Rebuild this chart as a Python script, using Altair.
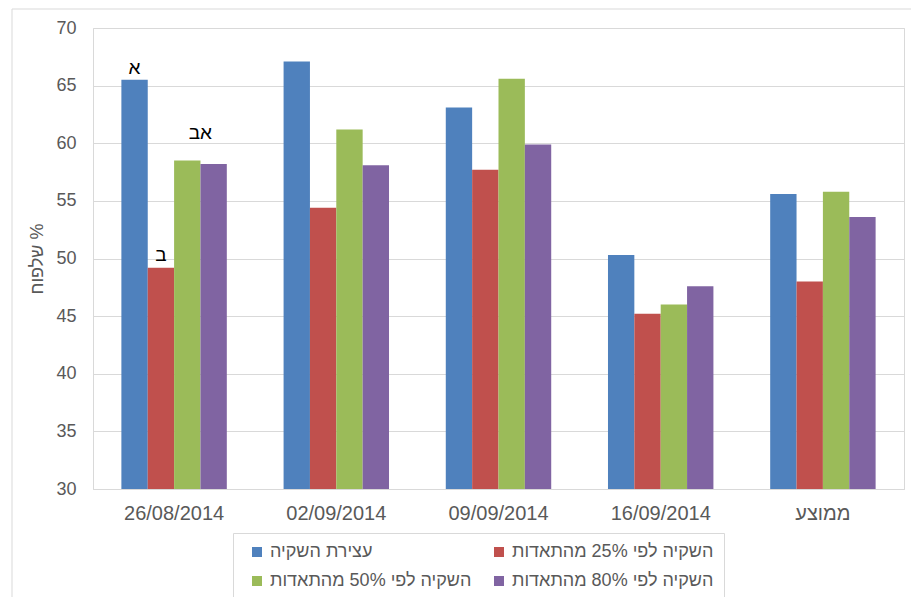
import altair as alt
import pandas as pd

# Sampling dates (last one is the mean over all dates)
categories = ["26/08/2014", "02/09/2014", "09/09/2014", "16/09/2014", "ממוצע"]

# Irrigation treatments
series = [
    "עצירת השקיה",
    "השקיה לפי 25% מהתאדות",
    "השקיה לפי 50% מהתאדות",
    "השקיה לפי 80% מהתאדות",
]

# % blistering per treatment, one value per date
stop_irrigation = [65.5, 67.1, 63.1, 50.3, 55.6]
evap_25 = [49.2, 54.4, 57.7, 45.2, 48.0]
evap_50 = [58.5, 61.2, 65.6, 46.0, 55.8]
evap_80 = [58.2, 58.1, 59.9, 47.6, 53.6]

colors = ["#4F81BD", "#C0504D", "#9BBB59", "#8064A2"]

y_ticks = [30, 35, 40, 45, 50, 55, 60, 65, 70]

rows = []
for name, vals in zip(series, [stop_irrigation, evap_25, evap_50, evap_80]):
    for cat, v in zip(categories, vals):
        rows.append({"date": cat, "treatment": name, "value": v})
df = pd.DataFrame(rows)

FONT = "Liberation Sans"
GRAY = "#595959"
LINE = "#D9D9D9"

x_enc = alt.X(
    "date:N",
    sort=categories,
    title=None,
    scale=alt.Scale(paddingInner=0.35, paddingOuter=0.175),
    axis=alt.Axis(
        labelAngle=0,
        ticks=False,
        domainColor=LINE,
        labelFont=FONT,
        labelFontSize=20,
        labelColor=GRAY,
        labelPadding=14,
    ),
)
xoff_enc = alt.XOffset("treatment:N", sort=series)
y_scale = alt.Scale(domain=[30, 70], zero=False, nice=False)

bars = (
    alt.Chart(df)
    .mark_bar()
    .encode(
        x=x_enc,
        xOffset=xoff_enc,
        y=alt.Y(
            "value:Q",
            scale=y_scale,
            title="שלפוח %",
            axis=alt.Axis(
                values=y_ticks,
                ticks=False,
                domain=False,
                gridColor=LINE,
                labelFont=FONT,
                labelFontSize=18,
                labelColor=GRAY,
                labelPadding=17,
                titleFont=FONT,
                titleFontSize=18,
                titleFontWeight="normal",
                titleColor=GRAY,
                titlePadding=9,
            ),
        ),
        y2=alt.datum(30),
        color=alt.Color(
            "treatment:N",
            sort=series,
            scale=alt.Scale(domain=series, range=colors),
            legend=alt.Legend(
                title=None,
                orient="none",
                legendX=140,
                legendY=505,
                columns=2,
                direction="horizontal",
                symbolType="square",
                symbolSize=100,
                symbolStrokeWidth=0,
                symbolOffset=5,
                labelFont=FONT,
                labelFontSize=18,
                labelColor=GRAY,
                labelOffset=4,
                labelLimit=400,
                rowPadding=11,
                columnPadding=13,
                padding=10,
                strokeColor=LINE,
                fillColor="white",
            ),
        ),
    )
)

# Significance letters above the first date's bars
sig = alt.Chart(df[df["date"] == categories[0]])


def letter(text, treatment, dx, dy):
    return (
        sig.transform_filter(alt.datum.treatment == treatment)
        .mark_text(text=text, font=FONT, fontSize=19, color="black", dx=dx, dy=dy)
        .encode(x=alt.X("date:N", sort=categories), xOffset=xoff_enc,
                y=alt.Y("value:Q", scale=y_scale))
    )


letters = (
    letter("א", series[0], 0, -12)
    + letter("ב", series[1], 0, -13)
    + letter("אב", series[2], 13, -28)
)

# Outer chart-area frame
frame = alt.Chart(pd.DataFrame({"a": [0]})).mark_rect(
    fill=None, stroke=LINE, strokeWidth=1
).encode(x=alt.value(-81), x2=alt.value(830), y=alt.value(-19), y2=alt.value(700))

chart = (
    alt.layer(frame, bars, letters)
    .properties(
        width=811,
        height=461,
        autosize="none",
        padding={"left": 93, "top": 28, "right": 7, "bottom": 108},
        background="white",
    )
    .configure_view(stroke=LINE, strokeWidth=1)
)

chart.save("out.html", embed_options={"renderer": "svg", "actions": False})
